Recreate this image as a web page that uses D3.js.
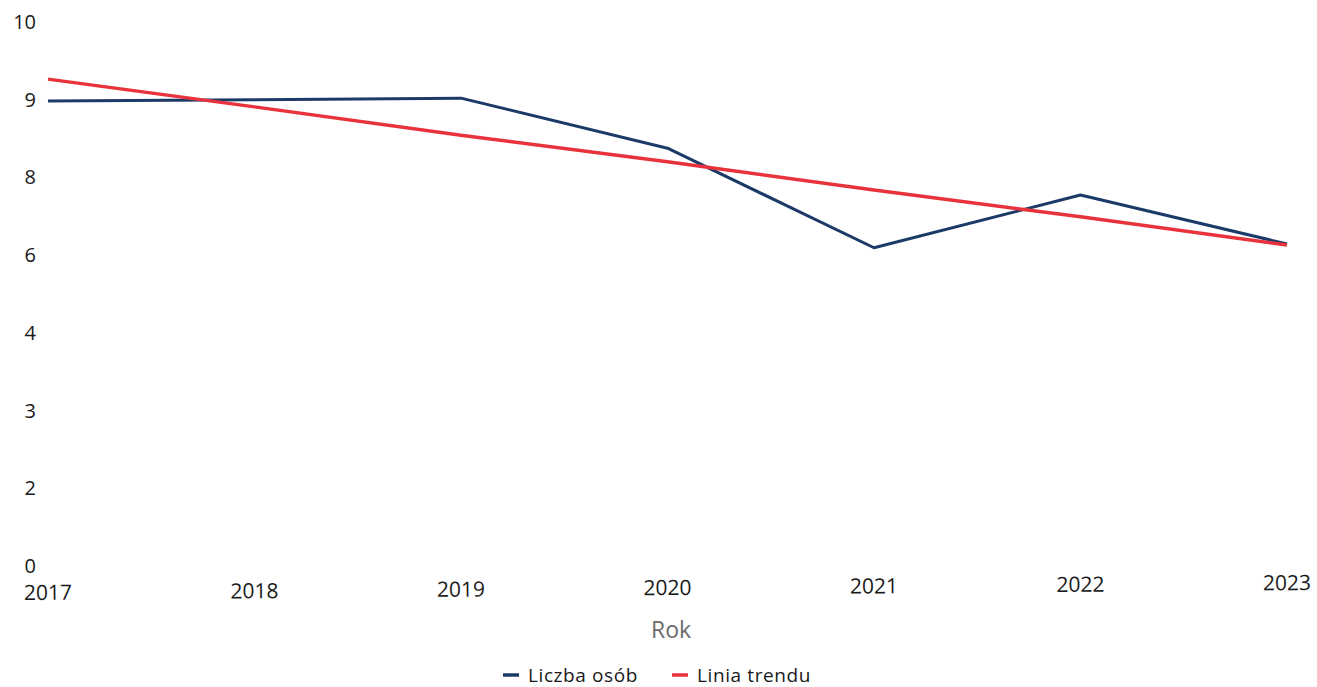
<!DOCTYPE html>
<html>
<head>
<meta charset="utf-8">
<script src="https://cdn.jsdelivr.net/npm/d3@7"></script>
<style>
  body { margin: 0; background: #fff; }
  text { font-family: 'Open Sans', 'Noto Sans', sans-serif; }
</style>
</head>
<body>
<div id="graf"></div>
<script>
// datos
lata = ['2017', '2018', '2019', '2020', '2021', '2022', '2023']
liczbaOsob = [8.55, 8.57, 8.60, 7.68, 5.85, 6.82, 5.92]
liniaTrendu = [8.95, 8.44, 7.92, 7.43, 6.91, 6.42, 5.90]
etykietyY = ['0', '2', '3', '4', '6', '8', '9', '10']

ancho_total = 1317
alto_total = 687

svg = d3.select('#graf').append('svg')
  .attr('width', ancho_total)
  .attr('height', alto_total)

// escaladores
x = d3.scalePoint()
  .domain(lata)
  .range([48, 1287])

y = d3.scaleLinear()
  .domain([0, 10])
  .range([566, 22])

// eje Y (solo etiquetas)
svg.append('g')
  .selectAll('text')
  .data(etykietyY)
  .join('text')
    .attr('x', 36)
    .attr('y', (d, i) => y(i * 10 / 7))
    .attr('dy', '0.35em')
    .attr('text-anchor', 'end')
    .attr('font-size', '20px')
    .attr('fill', '#1a1a1a')
    .text(d => d)

// eje X (ligeramente inclinado como en el escaneo)
svg.append('g')
  .attr('transform', 'rotate(-0.45, 668, 594)')
  .selectAll('text')
  .data(lata)
  .join('text')
    .attr('x', d => x(d))
    .attr('y', 595)
    .attr('text-anchor', 'middle')
    .attr('font-size', '21px')
    .attr('fill', '#1a1a1a')
    .text(d => d)

svg.append('text')
  .attr('x', 671)
  .attr('y', 638)
  .attr('text-anchor', 'middle')
  .attr('font-size', '23px')
  .attr('fill', '#6b6b6b')
  .text('Rok')

// líneas
linea = d3.line()
  .x((d, i) => x(lata[i]))
  .y(d => y(d))

svg.append('path')
  .datum(liczbaOsob)
  .attr('d', linea)
  .attr('fill', 'none')
  .attr('stroke', '#1c3a68')
  .attr('stroke-width', 3)
  .attr('stroke-linejoin', 'round')

svg.append('path')
  .datum(liniaTrendu)
  .attr('d', linea)
  .attr('fill', 'none')
  .attr('stroke', '#e8323c')
  .attr('stroke-width', 3.5)

// leyenda
leyenda = [
  { nombre: 'Liczba osób', color: '#1c3a68', x: 503 },
  { nombre: 'Linia trendu', color: '#e8323c', x: 672 }
]

items = svg.append('g')
  .selectAll('g')
  .data(leyenda)
  .join('g')
    .attr('transform', d => `translate(${d.x}, 675)`)

items.append('line')
  .attr('x1', 0)
  .attr('x2', 16)
  .attr('stroke', d => d.color)
  .attr('stroke-width', 3.5)

items.append('text')
  .attr('x', 25)
  .attr('dy', '0.35em')
  .attr('font-size', '19px')
  .attr('letter-spacing', '0.6px')
  .attr('fill', '#1a1a1a')
  .text(d => d.nombre)
</script>
</body>
</html>
